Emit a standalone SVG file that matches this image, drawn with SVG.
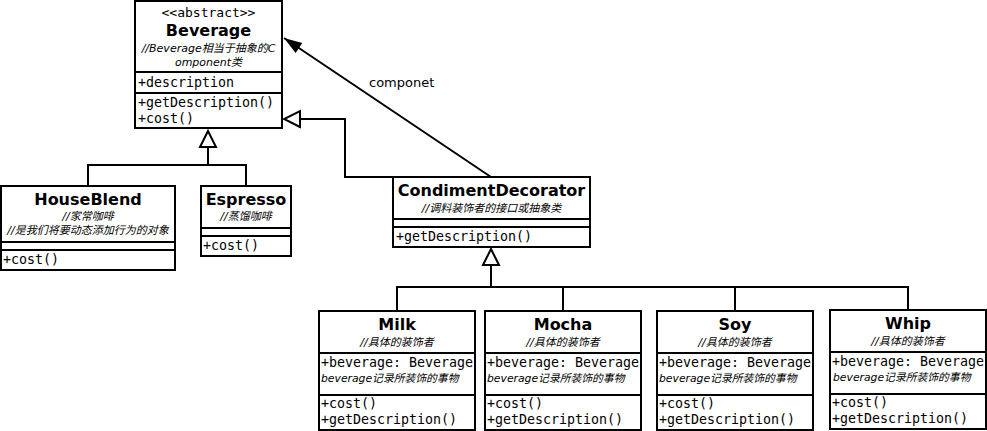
<svg xmlns="http://www.w3.org/2000/svg" width="987" height="431" viewBox="0 0 987 431">
<style>
.box{fill:#fff;stroke:#000;stroke-width:2}
.sep{stroke:#000;stroke-width:2;fill:none}
.conn{stroke:#000;stroke-width:2;fill:none}
.title{font-family:"DejaVu Sans","Noto Sans CJK SC",sans-serif;font-weight:bold;font-size:16px;text-anchor:middle;fill:#000}
.cmt{font-family:"DejaVu Sans","Noto Sans CJK SC",sans-serif;font-style:italic;font-size:11px;text-anchor:middle;fill:#000}
.cmtl{font-family:"DejaVu Sans","Noto Sans CJK SC",sans-serif;font-style:italic;font-size:10.8px;fill:#000}
.mono{font-family:"DejaVu Sans Mono",monospace;font-size:13.3px;fill:#000}
.ster{font-family:"DejaVu Sans Mono",monospace;font-size:13px;text-anchor:middle;fill:#000}
.lbl{font-family:"DejaVu Sans",sans-serif;font-size:13px;fill:#000}
</style>
<defs>
<marker id="gen" markerUnits="userSpaceOnUse" viewBox="0 0 20 20" refX="18" refY="10" markerWidth="20" markerHeight="20" orient="auto">
<path d="M2,2 L18,10 L2,18 Z" fill="#fff" stroke="#000" stroke-width="2"/>
</marker>
<marker id="nav" markerUnits="userSpaceOnUse" viewBox="0 0 20 16" refX="19" refY="8" markerWidth="20" markerHeight="16" orient="auto">
<path d="M1,2 L19,8 L1,14 Z" fill="#000"/>
</marker>
</defs>

<g id="connectors">
<path class="conn" d="M208,165 V131" marker-end="url(#gen)"/>
<path class="conn" d="M88,186 V165 H246 V186"/>
<path class="conn" d="M393,177 H345 V119 H284" marker-end="url(#gen)"/>
<path class="conn" d="M491,177 L284,38" marker-end="url(#nav)"/>
<text class="lbl" x="369" y="87">componet</text>
<path class="conn" d="M491,287 V249" marker-end="url(#gen)"/>
<path class="conn" d="M397,311 V287 H908 V310"/>
<path class="conn" d="M563,287 V311"/>
<path class="conn" d="M735,287 V311"/>
</g>

<g id="Beverage">
<rect class="box" x="135" y="1" width="147" height="127"/>
<path class="sep" d="M135,72 H282 M135,93 H282"/>
<text class="ster" x="208.5" y="17">&lt;&lt;abstract&gt;&gt;</text>
<text class="title" x="208.5" y="36">Beverage</text>
<text class="cmt" x="208.5" y="52">//Beverage相当于抽象的C</text>
<text class="cmt" x="208.5" y="66">omponent类</text>
<text class="mono" x="138" y="87">+description</text>
<text class="mono" x="138" y="107">+getDescription()</text>
<text class="mono" x="138" y="123">+cost()</text>
</g>

<g id="HouseBlend">
<rect class="box" x="1" y="186" width="174" height="84"/>
<path class="sep" d="M1,242 H175 M1,250 H175"/>
<text class="title" x="88" y="205">HouseBlend</text>
<text class="cmt" x="88" y="220">//家常咖啡</text>
<text class="cmt" x="88" y="234">//是我们将要动态添加行为的对象</text>
<text class="mono" x="3" y="264">+cost()</text>
</g>

<g id="Espresso">
<rect class="box" x="201" y="186" width="90" height="70"/>
<path class="sep" d="M201,228 H291 M201,236 H291"/>
<text class="title" x="246" y="205">Espresso</text>
<text class="cmt" x="246" y="220">//蒸馏咖啡</text>
<text class="mono" x="203" y="250">+cost()</text>
</g>

<g id="CondimentDecorator">
<rect class="box" x="393" y="177" width="197" height="70"/>
<path class="sep" d="M393,219 H590 M393,227 H590"/>
<text class="title" x="491.5" y="196">CondimentDecorator</text>
<text class="cmt" x="491.5" y="212">//调料装饰者的接口或抽象类</text>
<text class="mono" x="396" y="241">+getDescription()</text>
</g>

<g id="Milk">
<rect class="box" x="319" y="311" width="156" height="119"/>
<path class="sep" d="M319,353 H475 M319,395 H475"/>
<text class="title" x="397" y="330">Milk</text>
<text class="cmt" x="397" y="346">//具体的装饰者</text>
<text class="mono" x="321" y="367">+beverage: Beverage</text>
<text class="cmtl" x="321" y="382">beverage记录所装饰的事物</text>
<text class="mono" x="321" y="408">+cost()</text>
<text class="mono" x="321" y="424">+getDescription()</text>
</g>

<g id="Mocha">
<rect class="box" x="485" y="311" width="156" height="119"/>
<path class="sep" d="M485,353 H641 M485,395 H641"/>
<text class="title" x="563" y="330">Mocha</text>
<text class="cmt" x="563" y="346">//具体的装饰者</text>
<text class="mono" x="487" y="367">+beverage: Beverage</text>
<text class="cmtl" x="487" y="382">beverage记录所装饰的事物</text>
<text class="mono" x="487" y="408">+cost()</text>
<text class="mono" x="487" y="424">+getDescription()</text>
</g>

<g id="Soy">
<rect class="box" x="657" y="311" width="156" height="119"/>
<path class="sep" d="M657,353 H813 M657,395 H813"/>
<text class="title" x="735" y="330">Soy</text>
<text class="cmt" x="735" y="346">//具体的装饰者</text>
<text class="mono" x="659" y="367">+beverage: Beverage</text>
<text class="cmtl" x="659" y="382">beverage记录所装饰的事物</text>
<text class="mono" x="659" y="408">+cost()</text>
<text class="mono" x="659" y="424">+getDescription()</text>
</g>

<g id="Whip">
<rect class="box" x="830" y="310" width="156" height="119"/>
<path class="sep" d="M830,352 H986 M830,394 H986"/>
<text class="title" x="908" y="329">Whip</text>
<text class="cmt" x="908" y="345">//具体的装饰者</text>
<text class="mono" x="832" y="366">+beverage: Beverage</text>
<text class="cmtl" x="833" y="381">beverage记录所装饰的事物</text>
<text class="mono" x="832" y="407">+cost()</text>
<text class="mono" x="832" y="423">+getDescription()</text>
</g>
</svg>
